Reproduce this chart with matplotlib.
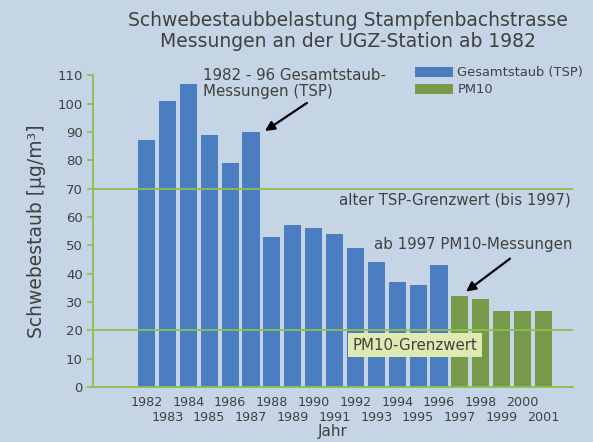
import numpy as np
import matplotlib.pyplot as plt

plt.rcParams['font.family'] = ['DejaVu Sans']

years = list(range(1982, 2002))
tsp_years = years[:15]
tsp_values = [87, 101, 107, 89, 79, 90, 53, 57, 56, 54, 49, 44, 37, 36, 43]
pm10_years = years[15:]
pm10_values = [32, 31, 27, 27, 27]
tsp_limit = 70
pm10_limit = 20

bg = '#c5d5e5'
blue = '#4a7ec0'
green = '#77994a'
line_green = '#8dbf4c'
text_col = '#404040'

fig = plt.figure(figsize=(5.93, 4.42), dpi=100, facecolor=bg)
ax = fig.add_axes([0.157, 0.124, 0.809, 0.706], facecolor=bg)

x_all = np.arange(len(years))
x_tsp = x_all[:len(tsp_years)]
x_pm = x_all[len(tsp_years):]
ax.bar(x_tsp, tsp_values, width=0.82, color=blue, label='Gesamtstaub (TSP)', zorder=2)
ax.bar(x_pm, pm10_values, width=0.82, color=green, label='PM10', zorder=2)

ax.axhline(tsp_limit, color=line_green, lw=1.3, zorder=3)
ax.axhline(pm10_limit, color=line_green, lw=1.3, zorder=3)

ax.set_xlim(-2.56, 20.41)
ax.set_ylim(0, 110)
ax.set_yticks(range(0, 111, 10))

# even years on the first row, odd years on the second row
ax.set_xticks(x_all[::2])
ax.set_xticklabels([str(y) for y in years[::2]])
ax.set_xticks(x_all[1::2], minor=True)
ax.set_xticklabels([str(y) for y in years[1::2]], minor=True)
ax.tick_params(axis='x', which='major', length=0, pad=6, labelsize=9.2, labelcolor=text_col)
ax.tick_params(axis='x', which='minor', length=0, pad=17.5, labelsize=9.2, labelcolor=text_col)
ax.tick_params(axis='y', colors=line_green, labelcolor=text_col, labelsize=9.5, length=4, width=1.2)

for s in ['top', 'right']:
    ax.spines[s].set_visible(False)
for s in ['left', 'bottom']:
    ax.spines[s].set_color(line_green)
    ax.spines[s].set_linewidth(1.3)

ax.set_ylabel('Schwebestaub [µg/m³]', fontsize=13.5, color=text_col, labelpad=8)
ax.set_xlabel('Jahr', fontsize=11, color=text_col, labelpad=0)

fig.text(0.587, 0.93, 'Schwebestaubbelastung Stampfenbachstrasse\nMessungen an der UGZ-Station ab 1982',
         ha='center', va='center', fontsize=13.5, color=text_col, linespacing=1.1)

ax.legend(loc='upper left', bbox_to_anchor=(0.671, 1.028), frameon=False, fontsize=9.4,
          handlelength=2.9, handleheight=0.75, handletextpad=0.35, labelspacing=0.3,
          borderpad=0, borderaxespad=0, labelcolor=text_col)

arrow = dict(arrowstyle='-|>', color='black', lw=1.6, mutation_scale=14, shrinkA=0, shrinkB=0)
ax.text(2.7, 107, '1982 - 96 Gesamtstaub-\nMessungen (TSP)', fontsize=10.8, color=text_col,
        ha='left', va='center', linespacing=1.1)
ax.annotate('', xy=(5.67, 90.3), xytext=(7.68, 100.2), arrowprops=arrow)
ax.annotate('', xy=(15.3, 33.7), xytext=(17.4, 45.3), arrowprops=arrow)
ax.text(20.4, 50.3, 'ab 1997 PM10-Messungen', fontsize=10.8, color=text_col, ha='right', va='center')
ax.text(20.3, 66, 'alter TSP-Grenzwert (bis 1997)', fontsize=10.8, color=text_col, ha='right', va='center')
ax.text(9.85, 14.8, 'PM10-Grenzwert', fontsize=10.8, color=text_col, ha='left', va='center', zorder=4,
        bbox=dict(boxstyle='square,pad=0.3', facecolor='#dfe9b2', edgecolor='none'))

fig.savefig('out.png', dpi=100, facecolor=bg)
